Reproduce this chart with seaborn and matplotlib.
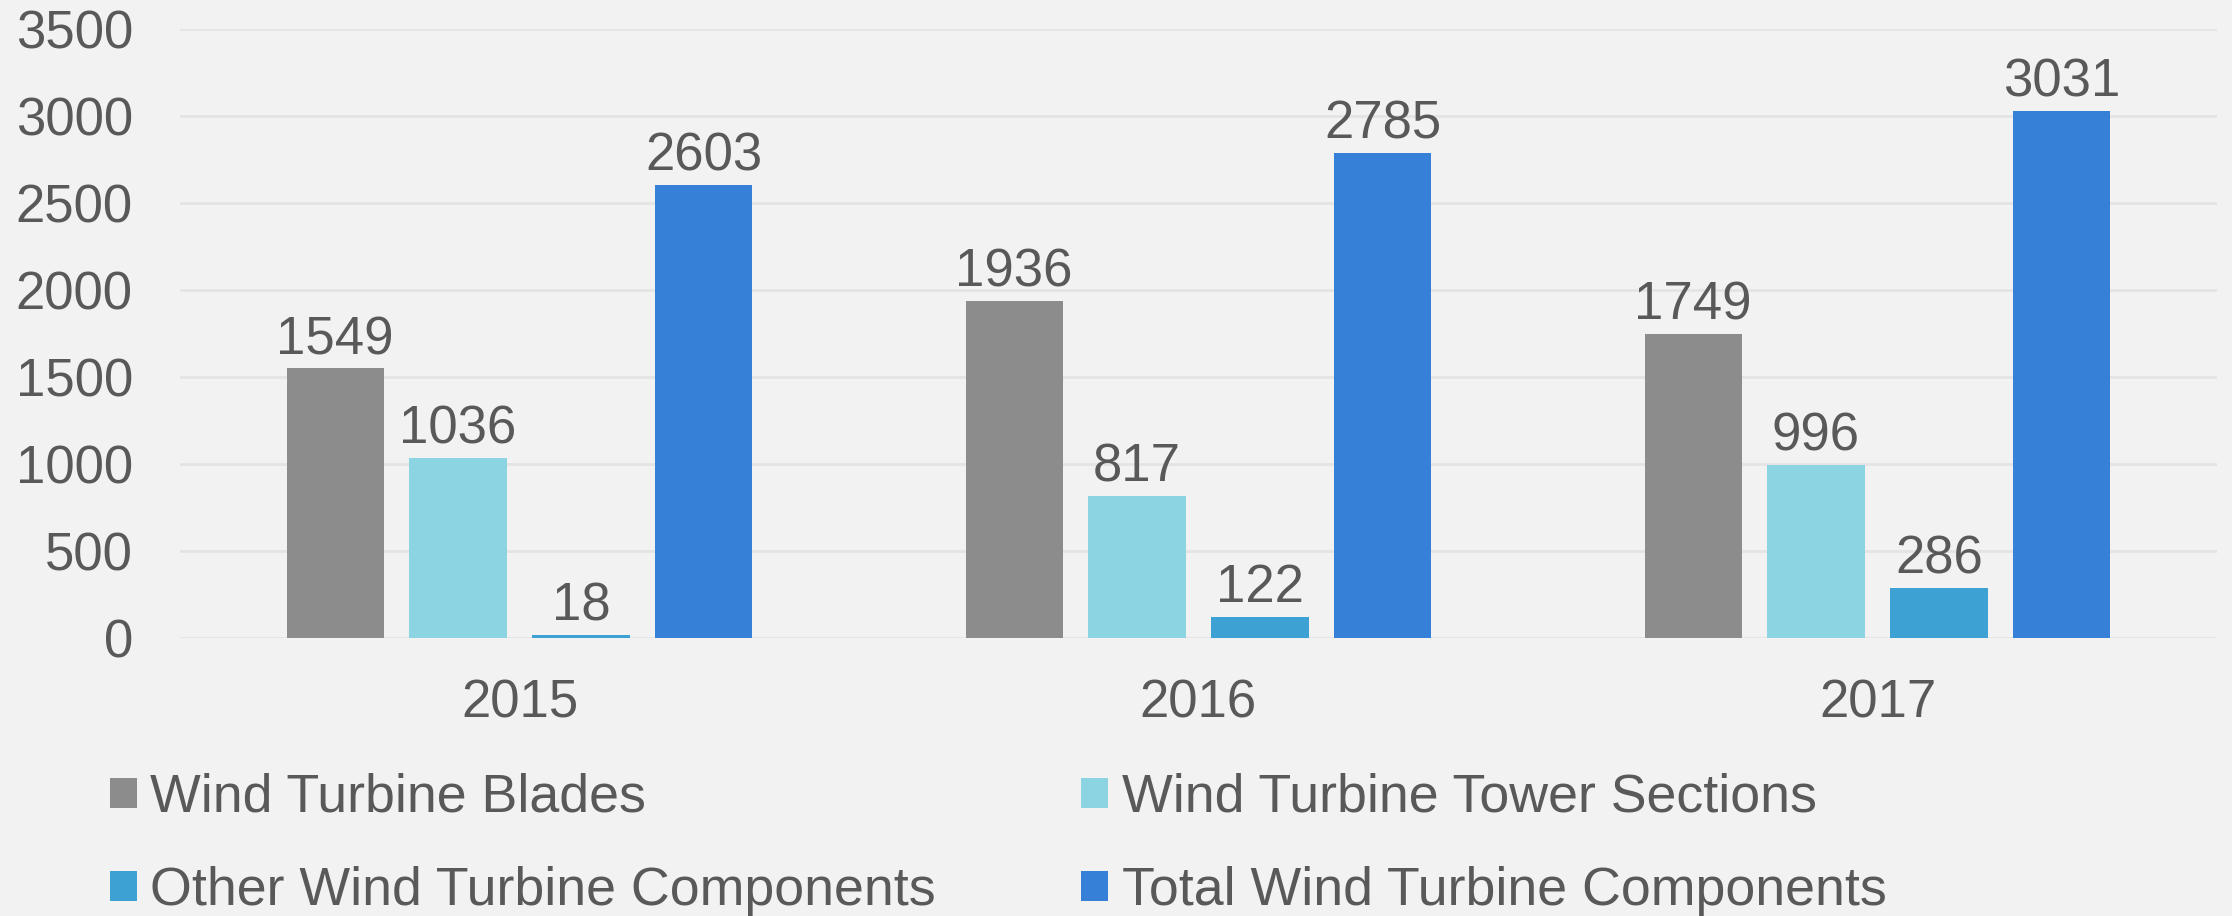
import matplotlib
matplotlib.use("Agg")
import matplotlib.pyplot as plt
import seaborn as sns
import pandas as pd

years = ["2015", "2016", "2017"]
series = ["Wind Turbine Blades", "Wind Turbine Tower Sections",
          "Other Wind Turbine Components", "Total Wind Turbine Components"]
blades = [1549, 1936, 1749]
tower = [1036, 817, 996]
other = [18, 122, 286]
total = [2603, 2785, 3031]
yticks = [0, 500, 1000, 1500, 2000, 2500, 3000, 3500]
colors = ["#8C8C8C", "#8CD4E2", "#3DA2D3", "#3680D8"]

rows = []
for name, vals in zip(series, [blades, tower, other, total]):
    for y, v in zip(years, vals):
        rows.append({"Year": y, "Series": name, "Value": v})
df = pd.DataFrame(rows)

sns.set_theme(style="white")
plt.rcParams["font.family"] = ["Liberation Sans", "DejaVu Sans"]
text_color = "#595959"
bg = "#F2F2F2"

fig = plt.figure(figsize=(22.32, 9.16), dpi=100, facecolor=bg)
ax = fig.add_axes([180 / 2232, 1 - 638 / 916, (2217 - 180) / 2232, (638 - 29) / 916])
ax.set_facecolor(bg)

sns.barplot(data=df, x="Year", y="Value", hue="Series", hue_order=series,
            order=years, palette=colors, width=0.7245, gap=0.211,
            saturation=1, ax=ax, legend=True, edgecolor="none", linewidth=0)

for c in ax.containers:
    ax.bar_label(c, fmt="%d", padding=2.5, fontsize=38, color=text_color)

ax.set_ylim(0, 3500)
ax.set_yticks(yticks)
ax.set_yticklabels([str(t) for t in yticks])
ax.grid(axis="y", color="#E4E4E4", linewidth=2)
ax.set_axisbelow(True)
for s in ax.spines.values():
    s.set_visible(False)
ax.tick_params(axis="y", length=0, pad=34, labelsize=38, labelcolor=text_color)
ax.tick_params(axis="x", length=0, pad=29, labelsize=38, labelcolor=text_color)
ax.set_xlabel("")
ax.set_ylabel("")

handles, labels = ax.get_legend_handles_labels()
ax.get_legend().remove()
# row-wise order: Blades, Tower / Other, Total  (matplotlib fills by column)
idx = [0, 2, 1, 3]
handles = [handles[i] for i in idx]
labels = [labels[i] for i in idx]
leg = fig.legend(handles, labels, ncol=2, loc="upper left",
                 bbox_to_anchor=(110 / 2232, 1 - 773 / 916),
                 frameon=False, fontsize=38.7, labelcolor=text_color,
                 handlelength=0.5, handleheight=0.5, handletextpad=0.25,
                 columnspacing=2.7, labelspacing=0.8, borderpad=0,
                 borderaxespad=0)

fig.savefig("out.png", dpi=100, facecolor=bg)
